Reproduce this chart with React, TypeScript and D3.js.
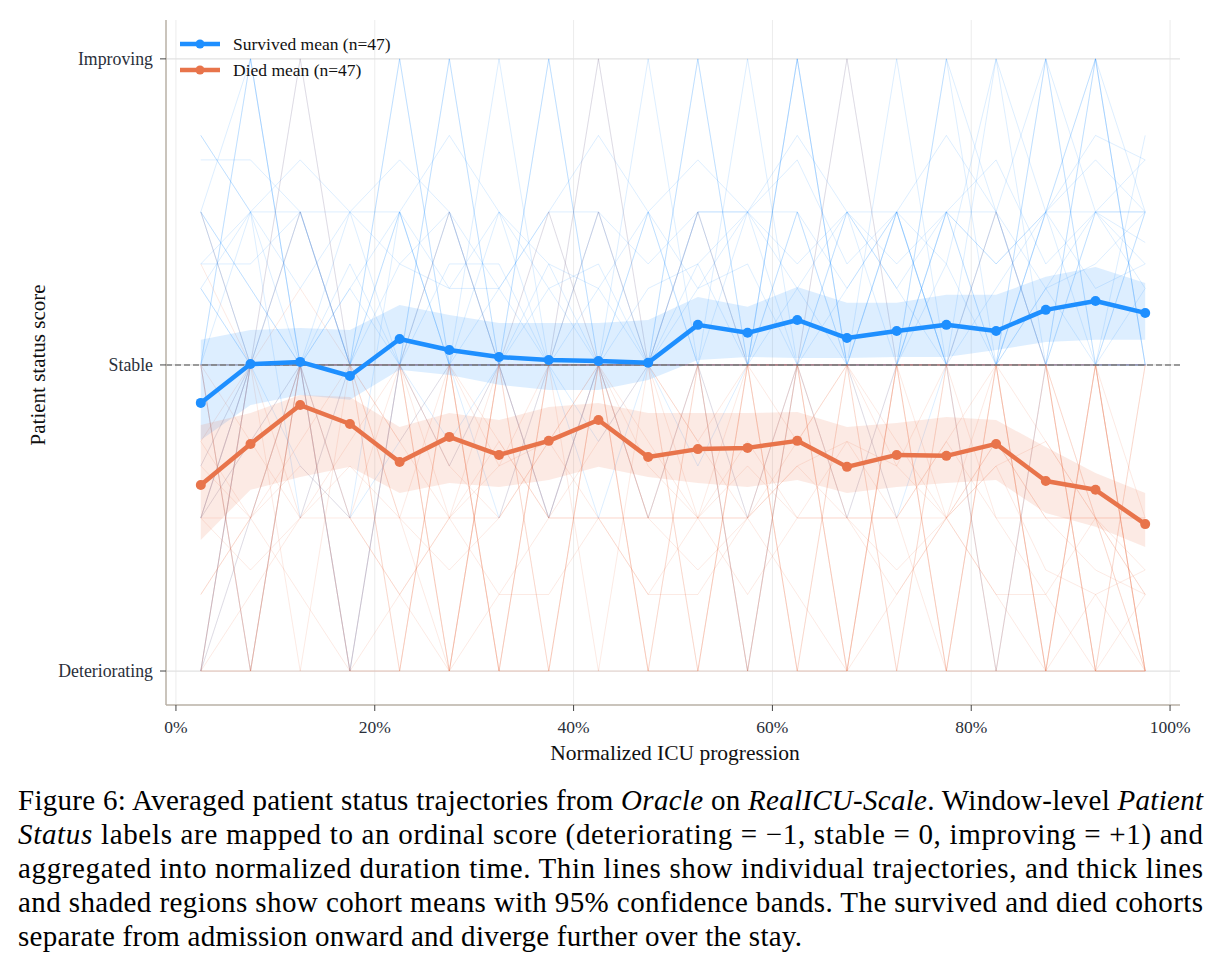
import React from 'react'
import * as d3 from 'd3'

// bin centres, % of normalized ICU stay
const bins = [2.5, 7.5, 12.5, 17.5, 22.5, 27.5, 32.5, 37.5, 42.5, 47.5, 52.5, 57.5, 62.5, 67.5, 72.5, 77.5, 82.5, 87.5, 92.5, 97.5]

const survivedMean = [-0.124, 0.003, 0.01, -0.036, 0.085, 0.049, 0.026, 0.016, 0.013, 0.007, 0.131, 0.105, 0.147, 0.088, 0.111, 0.131, 0.111, 0.18, 0.209, 0.17]
const survivedUpper = [0.082, 0.114, 0.121, 0.114, 0.196, 0.163, 0.137, 0.137, 0.137, 0.147, 0.222, 0.19, 0.255, 0.203, 0.203, 0.229, 0.229, 0.288, 0.32, 0.268]
const survivedLower = [-0.245, -0.131, -0.098, -0.114, -0.016, -0.033, -0.065, -0.082, -0.082, -0.049, 0.016, 0.026, 0.023, 0.023, 0.026, 0.026, 0.049, 0.075, 0.082, 0.082]

const diedMean = [-0.392, -0.258, -0.131, -0.193, -0.317, -0.235, -0.294, -0.248, -0.18, -0.301, -0.275, -0.271, -0.248, -0.333, -0.294, -0.297, -0.258, -0.379, -0.408, -0.52]
const diedUpper = [-0.196, -0.157, -0.098, -0.105, -0.203, -0.157, -0.18, -0.137, -0.124, -0.157, -0.157, -0.157, -0.154, -0.203, -0.19, -0.17, -0.18, -0.268, -0.353, -0.418]
const diedLower = [-0.572, -0.408, -0.366, -0.333, -0.418, -0.386, -0.399, -0.376, -0.333, -0.366, -0.386, -0.399, -0.376, -0.418, -0.399, -0.386, -0.376, -0.484, -0.529, -0.595]

// a sample of individual patient trajectories
const survivedPatients = [
  [0, 1, 0, 0.5, 0, 1, 0, 0, 0.5, 0, 1, 0, 0.5, 0, 0, 1, 0, 0.5, 1, 0.5],
  [0.5, 0, 0, -0.5, 0.5, 0, 0, 0.33, 0, 0, 0, 1, 0, 0, 0.5, 0, 0, 1, 0, 0],
  [-1, 0, 0.5, 0, 0, 0, -0.5, 0, 0, 0, 0.5, 0, 1, 0, 0, 0.5, 0, 0, 0.5, 0.33],
  [0.75, 0.5, 0.5, 0, 0.33, 0.5, 0, 0, 0, 0.5, 0, 0, 0, 0.5, 0.5, 0, 0.5, 0, 0, 0.5],
  [0, 0, 1, 0, 0, 0, 0, 1, 0, 0, 0, 0.5, 0, 0, 1, 0, 0, 0, 1, 0],
  [-0.5, 0, 0, 0, 1, 0, 0, 0, 0, -0.5, 0, 0, 0.5, 0, 0, 0, 0, 0.5, 0, 0],
  [0.25, 0.5, 0, 0, 0, 0.33, 0.33, 0, 0, 0, 0.5, 0.5, 0.25, 0, 0, 0.33, 1, 0.5, 0.5, 0.67],
  [0, -1, 0, -1, 0, 0, 0, 0, -0.5, 0, 0, 0, 0, 0, 0.5, 0, 0, 0, 0, 0],
  [0.5, 1, 0, 0, 0, 0, 0.5, 0, 0, 0, 1, 0, 0, 0, 0, 0, 0, 0, 0, 0.25],
  [0, 0, 0, 0, 0.5, 0, 0, 0, 1, 0, 0, 0, 0, -0.5, 0, 0, -1, 0, 0, 0],
  [-1, -0.5, 0, 0, 0, 0, 0, 0, 0, 1, 0, 0, 0, 0, 0, 0, 0, 0.5, 1, 0],
  [0.33, 0.33, 0.5, 0, 0, 0.5, 0, 0.5, 0, 0, 0, 0, 0, 1, 0, 0.5, 0, 0, 0, 0.5],
  [0, 0.5, -0.5, 0, 0, -0.33, 0, 0, 0, 0, 0.33, 0, 0, 0, 0, 0, 0.5, 0, 0, 0],
  [-0.5, 0, 0, -1, 0, 0, 0, -0.5, 0, 0, 0, -1, 0, 0, 0, 0, 0, 0, 0, 0],
  [0.5, 0.25, 0, 0, 0.5, 0, 0, 0, 0.25, 0, 0, 0, 1, 0, 0, 1, 0.5, 1, 0.5, 0.5],
  [0, 0, 0, 0.33, 0, 1, 0, -0.5, 0, 0, 0.5, 0, 0, 0, 0.5, 0, 0, 0.25, 0, 0.75],
  [-0.33, 0, 0, 0, 0, 0, 1, 0, 0, 0, 0, 0, 0, 0.5, 0, 0, 0, 1, 0, 0],
  [0.25, 0, 0, 0, 0, 0, 0, 0, 0, 0.5, 0, 0, 0, 0, 0, 0.5, 0.5, 0, 0.5, 0.25],
  [0, 0, 0, 0, 0, 0.5, 0, 0, 0, 0, 0, -0.5, 0, 0, 0, 0, 0, 0, 0, 0],
  [-1, 0, 0, 0, 0, 0, 0, 0, 0, 0, 0, 0, 0, 0, -0.5, 0, 0, 0, 0, 0],
  [0, 1, 0, 0, 1, 0, 0, 1, 0, 0, 0, 0, 1, 0, 0, 0, 0, 0, 1, 0],
  [0.5, 0, 0.5, 0, 0, 0, 0, 0, 0.5, 0, 0, 0, 0, 0, 0, 0, 1, 0, 0, 0],
  [0.33, 0.5, 0.67, 0.5, 0.33, 0.25, 0.5, 0.33, 0.25, 0.5, 0.67, 0.5, 0.33, 0.5, 0.25, 0.5, 0.33, 0.5, 0.67, 0.5],
  [0.5, 0.25, 0, 0.25, 0.5, 0.75, 0.5, 0.25, 0, 0.25, 0.33, 0.5, 0.75, 0.5, 0.33, 0.5, 0.67, 0.33, 0.5, 0.4],
  [0.75, 0.5, 0.25, 0.5, 0.5, 0.25, 0.25, 0.5, 0.75, 0.5, 0.25, 0.5, 0.5, 0.25, 0.5, 0.75, 0.5, 0.25, 0.5, 0.5],
  [-0.5, -0.25, 0, 0.25, 0, -0.25, 0, 0.25, 0.33, 0, -0.33, 0, 0.25, 0.5, 0.25, 0, 0.25, 0.5, 0.25, 0.33],
  [0.25, 0, -0.33, -0.5, -0.25, 0, 0.25, 0, -0.25, 0, 0.25, 0.33, 0, 0.25, 0.5, 0.33, 0, 0.25, 0.33, 0.5],
  [0.67, 0.67, 0.5, 0.5, 0.67, 0.5, 0.25, 0.5, 0.5, 0.33, 0.5, 0.5, 0.67, 0.33, 0.5, 0.5, 0.33, 0.5, 0.75, 0.67],
]

const diedPatients = [
  [-1, -1, -1, -1, -1, -1, -1, -1, -1, -1, -1, -1, -1, -1, -1, -1, -1, -1, -1, -1],
  [0, -1, 0, 0, -1, 0, 0, -1, 0, 0, 0, -1, 0, 0, -1, 0, 0, -1, 0, -1],
  [-0.5, 0, 0, -0.5, 0, 0, -1, 0, 0, -0.5, 0, 0, 0, -1, 0, 0, 0, 0, -1, -1],
  [0, 0, 0.5, 0, -1, 0, 0, 0, 0, -1, 0, 0, 0, 0, 0, -0.5, 0, -1, 0, 0],
  [-0.33, -0.5, 0, 0, 0, -0.5, 0, 0, 0.5, 0, -0.5, 0, 0, 0, -0.33, 0, 0, 0, -0.5, -1],
  [-1, 0, 0, -1, 0, 0, 0, 0, 0, 0, -1, 0, 0, -1, 0, 0, 0, 0, 0, -1],
  [-0.5, -0.25, 0, 0, -0.5, 0, -0.33, 0, 0, -0.5, 0, 0, -0.25, 0, 0, 0, -0.5, -0.5, -0.67, -0.75],
  [0, 0, 1, 0, 0, 0, 0, 0, 1, 0, 0, 0, 0, 0, 0, 0, 0, 0, 0, -0.5],
  [-1, 0, 0, 0, 0, 0, -1, 0, 0, 0, 0, 0, -1, 0, 0, -1, 0, 0, -1, 0],
  [-0.5, -0.5, -0.33, -0.5, -0.5, -0.5, -0.25, -0.5, -0.5, -0.5, -0.5, -0.33, -0.5, -0.5, -0.5, -0.5, -0.25, -0.5, -0.5, -0.5],
  [0, -1, 0, 0, 0, -1, 0, 0, 0, 0, 0, 0, -1, 0, 0, 0, 0, -1, 0, -1],
  [0.5, 0, 0, 0, 0, 0, 0, 0.5, 0, 0, 0, 0, 0, 1, 0, 0, 0, 0, 0, 0],
  [-1, -0.5, 0, 0, -0.5, -1, 0, 0, -1, 0, 0, -1, 0, 0, -0.5, -1, 0, 0, -1, 0],
  [0, 0, 0, -1, 0, 0, 0, -0.5, 0, 0, 0, -0.5, 0, 0, 0, 0, 0, -1, 0, -1],
  [-0.25, 0, -0.5, 0, 0, -0.33, 0, -0.5, 0, 0, -0.25, 0, 0, -0.5, 0, 0, -1, 0, 0, 0],
  [-1, 0, 0, 0, 0, -1, 0, 0, 0, -1, 0, 0, 0, 0, -1, 0, 0, 0, -1, -1],
  [-0.75, -0.5, 0, -0.5, -0.75, -0.5, -0.5, 0, 0, -0.5, -0.5, -0.5, 0, -0.5, -0.5, -0.25, -0.5, -0.75, -0.5, -0.75],
  [0, 0, 0, 0, 0, 0, -1, 0, 0, 0, 0, 0, 0, -1, 0, 0, 0, 0, 0, 0],
  [-0.5, 0, -1, 0, 0, 0, 0, -1, 0, 0, -1, 0, 0, 0, 0, 0, -1, 0, 0, -1],
  [0, -1, 0, 0, 0, -1, 0, 0, 0, 0, 0, -1, 0, 0, 0, -1, 0, 0, -0.5, -1],
  [-1, -1, 0, -1, -1, 0, -1, -1, 0, -1, -1, 0, -1, -1, 0, -1, -1, -1, -1, -1],
  [0.33, 0, 0, 0, 0, 0.5, 0, 0, 0, 0, 0.5, 0, 0, 0, 0, 0, 0.5, 0, 0, 0],
  [-0.5, -0.67, -0.5, -0.33, -0.5, -0.67, -0.5, -0.25, -0.5, -0.5, -0.67, -0.5, -0.33, -0.5, -0.67, -0.5, -0.33, -0.67, -0.75, -0.67],
  [-0.25, -0.5, -0.25, 0, -0.25, -0.5, -0.33, -0.25, 0, -0.25, -0.5, -0.25, -0.5, -0.25, -0.33, -0.5, -0.25, -0.5, -0.5, -0.75],
  [-0.75, -0.5, -0.75, -1, -0.75, -0.5, -0.75, -0.75, -0.5, -0.75, -0.75, -0.5, -0.75, -1, -0.75, -0.5, -0.75, -0.75, -1, -0.75],
  [0, -0.25, -0.5, -0.25, 0, -0.33, -0.5, -0.25, 0, -0.33, -0.5, -0.5, -0.25, 0, -0.25, -0.5, -0.33, -0.25, -0.5, -0.5],
  [-0.33, 0, 0.25, 0, -0.25, 0, -0.25, -0.5, -0.25, 0, -0.25, -0.5, -0.33, -0.25, -0.5, -0.25, 0, -0.25, -0.5, -0.67],
  [-1, -0.75, -0.5, -0.5, -0.75, -1, -0.75, -0.5, -0.5, -0.75, -0.5, -0.75, -0.5, -0.5, -0.75, -0.5, -0.75, -1, -0.75, -1],
]

const yTicks = [-1, 0, 1]
const yTickLabels = ['Deteriorating', 'Stable', 'Improving']
const xTicks = [0, 20, 40, 60, 80, 100]

const legendItems = [
  { label: 'Survived mean (n=47)', color: '#1e8fff' },
  { label: 'Died mean (n=47)', color: '#e8744b' },
]

const BLUE = '#1e8fff'
const ORANGE = '#e8744b'
const serif = '"Liberation Serif", "DejaVu Serif", serif'

export default function App() {
  const left = 166, right = 1180, top = 20, bottom = 705

  const x = d3.scaleLinear().domain([-1, 101]).range([left, right])
  const y = d3.scaleLinear().domain([-1.111, 1.127]).range([bottom, top])

  const line = d3.line<number>()
    .x((_, i) => x(bins[i]))
    .y(d => y(d))

  const band = (lo: number[], hi: number[]) =>
    d3.area<number>()
      .x((_, i) => x(bins[i]))
      .y0((_, i) => y(lo[i]))
      .y1((_, i) => y(hi[i]))(bins)

  return (
    <svg width={1220} height={975} style={{ position: 'absolute', left: 0, top: 0, background: '#fff' }}
      fontFamily={serif}>
      {/* grid */}
      {xTicks.map(t => (
        <line key={'gx' + t} x1={x(t)} x2={x(t)} y1={top} y2={bottom} stroke="#ececec" strokeWidth={1} />
      ))}
      {yTicks.map(t => (
        <line key={'gy' + t} x1={left} x2={right} y1={y(t)} y2={y(t)} stroke="#e2e2e2" strokeWidth={1.2} />
      ))}

      {/* individual trajectories */}
      {survivedPatients.map((p, i) => (
        <path key={'s' + i} d={line(p) ?? ''} fill="none" stroke={BLUE} strokeOpacity={0.15} strokeWidth={1} />
      ))}
      {diedPatients.map((p, i) => (
        <path key={'d' + i} d={line(p) ?? ''} fill="none" stroke={ORANGE} strokeOpacity={0.15} strokeWidth={1} />
      ))}

      {/* 95% bands */}
      <path d={band(survivedLower, survivedUpper) ?? ''} fill={BLUE} fillOpacity={0.15} />
      <path d={band(diedLower, diedUpper) ?? ''} fill={ORANGE} fillOpacity={0.15} />

      {/* stable reference */}
      <line x1={left} x2={right} y1={y(0)} y2={y(0)} stroke="#7f7f7f" strokeWidth={1.4} strokeDasharray="6,3" />

      {/* means */}
      <path d={line(survivedMean) ?? ''} fill="none" stroke={BLUE} strokeWidth={4.5} strokeLinejoin="round" />
      {survivedMean.map((v, i) => (
        <circle key={'sm' + i} cx={x(bins[i])} cy={y(v)} r={5} fill={BLUE} />
      ))}
      <path d={line(diedMean) ?? ''} fill="none" stroke={ORANGE} strokeWidth={4.5} strokeLinejoin="round" />
      {diedMean.map((v, i) => (
        <circle key={'dm' + i} cx={x(bins[i])} cy={y(v)} r={5} fill={ORANGE} />
      ))}

      {/* axes */}
      <line x1={left} x2={left} y1={top} y2={bottom} stroke="#b8b0a6" strokeWidth={1.5} />
      <line x1={left} x2={right} y1={bottom} y2={bottom} stroke="#b8b0a6" strokeWidth={1.5} />
      {yTicks.map((t, i) => (
        <g key={'yt' + t}>
          <line x1={left - 6} x2={left} y1={y(t)} y2={y(t)} stroke="#444" strokeWidth={1} />
          <text x={left - 13} y={y(t)} dy="0.35em" textAnchor="end" fontSize={17.8} fill="#2a2f3a">{yTickLabels[i]}</text>
        </g>
      ))}
      {xTicks.map(t => (
        <g key={'xt' + t}>
          <line x1={x(t)} x2={x(t)} y1={bottom} y2={bottom + 6} stroke="#444" strokeWidth={1} />
          <text x={x(t)} y={bottom + 28} textAnchor="middle" fontSize={17.5} fill="#2a2f3a">{t + '%'}</text>
        </g>
      ))}
      <text x={(left + right) / 2 + 2} y={760} textAnchor="middle" fontSize={21.5} fill="#111">Normalized ICU progression</text>
      <text transform={`translate(45,${y(0)}) rotate(-90)`} textAnchor="middle" fontSize={21} fill="#111">Patient status score</text>

      {/* legend */}
      {legendItems.map((it, i) => (
        <g key={'lg' + i} transform={`translate(180,${44 + i * 26})`}>
          <line x1={0} x2={40} y1={0} y2={0} stroke={it.color} strokeWidth={4.5} />
          <circle cx={20} cy={0} r={4.5} fill={it.color} />
          <text x={53} y={0} dy="0.33em" fontSize={17.5} fill="#111">{it.label}</text>
        </g>
      ))}

      {/* caption */}
      <g fontSize={29} fill="#000">
        <text x={18} y={810} textLength={1185} lengthAdjust="spacing">
          Figure 6: Averaged patient status trajectories from <tspan fontStyle="italic">Oracle</tspan> on <tspan fontStyle="italic">RealICU-Scale</tspan>. Window-level <tspan fontStyle="italic">Patient</tspan>
        </text>
        <text x={18} y={844} textLength={1185} lengthAdjust="spacing">
          <tspan fontStyle="italic">Status</tspan> labels are mapped to an ordinal score (deteriorating = −1, stable = 0, improving = +1) and
        </text>
        <text x={18} y={878} textLength={1185} lengthAdjust="spacing">
          aggregated into normalized duration time. Thin lines show individual trajectories, and thick lines
        </text>
        <text x={18} y={912} textLength={1185} lengthAdjust="spacing">
          and shaded regions show cohort means with 95% confidence bands. The survived and died cohorts
        </text>
        <text x={18} y={946} textLength={784} lengthAdjust="spacing">
          separate from admission onward and diverge further over the stay.
        </text>
      </g>
    </svg>
  )
}
